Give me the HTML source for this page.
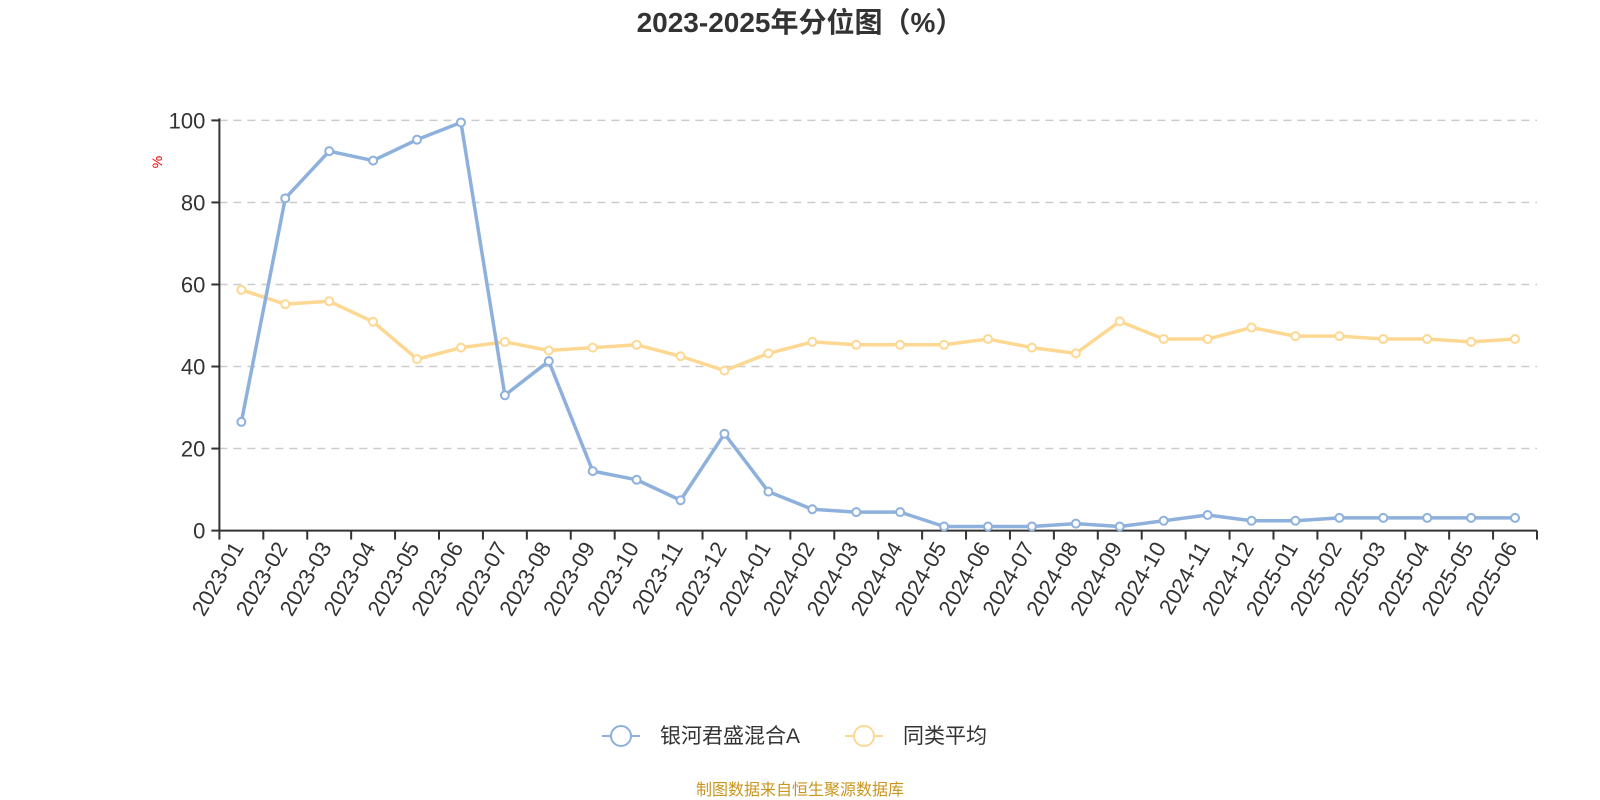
<!DOCTYPE html>
<html><head><meta charset="utf-8"><style>
body{margin:0;background:#fff;}
svg{display:block;font-family:"Liberation Sans","Noto Sans CJK SC",sans-serif;}
</style></head><body>
<svg id="chart" width="1600" height="800">
<text x="800" y="32" text-anchor="middle" font-size="28" font-weight="bold" fill="#333">2023-2025年分位图（%）</text>
<text x="0" y="0" transform="translate(162,162) rotate(-90)" text-anchor="middle" font-size="14" fill="#e00">%</text>
<g id="grid"></g><g id="axes"></g><g id="series"></g>
<g>
<g>
<line x1="602" y1="736" x2="640" y2="736" stroke="#8eb0dc" stroke-width="2"/>
<circle cx="621" cy="736" r="10" fill="#fff" stroke="#8eb0dc" stroke-width="2"/>
<text x="660" y="743" font-size="21" fill="#333">银河君盛混合A</text></g>
<g>
<line x1="845" y1="736" x2="883" y2="736" stroke="#fdd893" stroke-width="2"/>
<circle cx="864" cy="736" r="10" fill="#fff" stroke="#fdd893" stroke-width="2"/>
<text x="903" y="743" font-size="21" fill="#333">同类平均</text></g>
</g>
<text x="800" y="795" text-anchor="middle" font-size="16" fill="#c8961e">制图数据来自恒生聚源数据库</text>
</svg>
<script>
const categories=["2023-01","2023-02","2023-03","2023-04","2023-05","2023-06","2023-07","2023-08","2023-09","2023-10","2023-11","2023-12","2024-01","2024-02","2024-03","2024-04","2024-05","2024-06","2024-07","2024-08","2024-09","2024-10","2024-11","2024-12","2025-01","2025-02","2025-03","2025-04","2025-05","2025-06"];
const fundValues=[26.5,81,92.5,90.2,95.3,99.5,33,41.3,14.5,12.4,7.4,23.6,9.5,5.2,4.5,4.5,1,1,1,1.7,1,2.4,3.8,2.4,2.4,3.1,3.1,3.1,3.1,3.1];
const avgValues=[58.7,55.2,55.9,50.9,41.8,44.6,46,43.9,44.6,45.3,42.5,39,43.2,46,45.3,45.3,45.3,46.7,44.6,43.2,51,46.7,46.7,49.5,47.4,47.4,46.7,46.7,46,46.7];
const yTicks=[0,20,40,60,80,100];
const NS="http://www.w3.org/2000/svg";
const L=219.4,R=1537,T=120.4,B=530.6;
const band=(R-L)/categories.length;
const xs=i=>L+band*(i+0.5);
const ys=v=>B-(v/100)*(B-T);
function mk(tag,attrs,parent){const e=document.createElementNS(NS,tag);for(const k in attrs)e.setAttribute(k,attrs[k]);parent.appendChild(e);return e;}
const grid=document.getElementById('grid'),axes=document.getElementById('axes'),ser=document.getElementById('series');
yTicks.forEach(t=>{
  if(t>0){const g=mk('line',{x1:L,x2:R,y1:ys(t),y2:ys(t),stroke:'#ccc','stroke-width':1.5,'stroke-dasharray':'8,6'},grid);
  
  }
  const tk=mk('line',{x1:L-8,x2:L,y1:ys(t),y2:ys(t),stroke:'#333','stroke-width':2},axes);
  
  
  const lb=mk('text',{x:L-14,y:ys(t)+8,'text-anchor':'end','font-size':22,fill:'#333'},axes);
  lb.textContent=t;
  
  
});
const ya=mk('line',{x1:L,x2:L,y1:T-2,y2:B,stroke:'#333','stroke-width':2},axes);


const xa=mk('line',{x1:L,x2:R,y1:B,y2:B,stroke:'#333','stroke-width':2},axes);


for(let i=0;i<=categories.length;i++){
  const x=L+band*i;
  const tk=mk('line',{x1:x,x2:x,y1:B,y2:B+9,stroke:'#333','stroke-width':2},axes);
  
  
}
categories.forEach((c,i)=>{
  const x=xs(i)-2,y=B+14;
  const t=mk('text',{x:0,y:0,transform:`translate(${x},${y}) rotate(-60)`,'text-anchor':'end','dominant-baseline':'middle','font-size':22,fill:'#333'},axes);
  t.textContent=c;
  
  
});
function drawSeries(vals,color,name){
  const p=mk('polyline',{points:vals.map((v,i)=>xs(i)+','+ys(v)).join(' '),fill:'none',stroke:color,'stroke-width':3.5,'stroke-linejoin':'round'},ser);
  
  
  vals.forEach((v,i)=>{
    const c=mk('circle',{cx:xs(i),cy:ys(v),r:4,fill:'#fff',stroke:color,'stroke-width':2},ser);
    
    
  });
}
drawSeries(avgValues,'#fdd893','average');
drawSeries(fundValues,'#8eb0dc','fund');
</script>
</body></html>
